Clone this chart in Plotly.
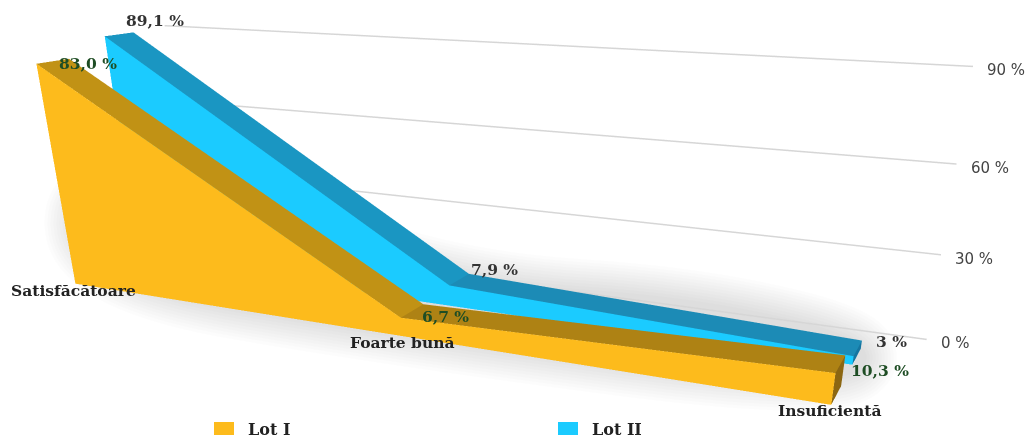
import plotly.graph_objects as go

# Chart data
categories = ["Satisfăcătoare", "Foarte bună", "Insuficientă"]
lot1_values = [83.0, 6.7, 10.3]
lot2_values = [89.1, 7.9, 3.0]
lot1_labels = ["83,0 %", "6,7 %", "10,3 %"]
lot2_labels = ["89,1 %", "7,9 %", "3 %"]
value_ticks = [0, 30, 60, 90]
value_tick_labels = ["0 %", "30 %", "60 %", "90 %"]

# Depth slots of the two ribbons and of the back wall
LOT1_DEPTH = (0.0, 0.12)
LOT2_DEPTH = (0.27, 0.39)
WALL_DEPTH = 0.53
X_END = 2.13

LOT1_COLORS = dict(front="#FDBB1C", top=["#C19215", "#AE8214"], side="#8B6612")
LOT2_COLORS = dict(front="#1BCBFF", top=["#1A96C2", "#1C8BB6"], side="#1575A0")

# Label nudges in pixels, per point
CATEGORY_SHIFT = [(-2, 5), (1, 5), (-2, 6)]
LOT1_SHIFT = [(-12, -5), (-3, -12), (4, -15)]
LOT2_SHIFT = [(-9, 12), (0, 4), (12, -1)]

SERIF = "DejaVu Serif"
SANS = "DejaVu Sans"
FIG_W, FIG_H = 1030, 950

# Outline of the soft drop shadow under the ribbons, in page pixels
SHADOW_OUTLINE = [(75, 170), (80, 280), (405, 335), (830, 390), (885, 345),
                  (700, 300), (470, 285), (300, 230)]


def ribbon(values, depth, colors, name):
    """Extruded area: one front panel and one top panel per segment, plus the end cap."""
    y0, y1 = depth
    xs, ys, zs = [], [], []
    for i, v in enumerate(values):
        xs += [i, i, i, i]
        ys += [y0, y0, y1, y1]
        zs += [0, v, 0, v]
    ii, jj, kk, fc = [], [], [], []

    def quad(a, b, c, d, color):
        ii.extend([a, a])
        jj.extend([b, c])
        kk.extend([c, d])
        fc.extend([color, color])

    for s in range(len(values) - 1):
        n = 4 * s
        m = n + 4
        quad(n, n + 1, m + 1, m, colors["front"])
        quad(n + 1, n + 3, m + 3, m + 1, colors["top"][s])
    last = 4 * (len(values) - 1)
    quad(last, last + 1, last + 3, last + 2, colors["side"])
    return go.Mesh3d(
        x=xs, y=ys, z=zs, i=ii, j=jj, k=kk, facecolor=fc, name=name, flatshading=True,
        lighting=dict(ambient=1, diffuse=0, specular=0, fresnel=0),
        hoverinfo="skip", showscale=False,
    )


def smooth_closed_path(points):
    """Closed curve through the midpoints of an outline, in paper coordinates."""
    pts = [(x / FIG_W, 1 - y / FIG_H) for x, y in points]
    mids = [((a[0] + b[0]) / 2, (a[1] + b[1]) / 2) for a, b in zip(pts, pts[1:] + pts[:1])]
    d = f"M {mids[-1][0]:.5f} {mids[-1][1]:.5f}"
    for p, m in zip(pts, mids):
        d += f" Q {p[0]:.5f} {p[1]:.5f} {m[0]:.5f} {m[1]:.5f}"
    return d + " Z"


fig = go.Figure()

# Back-wall gridlines
for tick in value_ticks:
    fig.add_trace(go.Scatter3d(
        x=[0, X_END], y=[WALL_DEPTH, WALL_DEPTH], z=[tick, tick], mode="lines",
        line=dict(color="#D6D6D6", width=3), hoverinfo="skip", showlegend=False,
    ))

fig.add_trace(ribbon(lot2_values, LOT2_DEPTH, LOT2_COLORS, "Lot II"))
fig.add_trace(ribbon(lot1_values, LOT1_DEPTH, LOT1_COLORS, "Lot I"))

notes = []
# Category names at the floor of the front ribbon
for i, name in enumerate(categories):
    dx, dy = CATEGORY_SHIFT[i]
    notes.append(dict(x=i, y=LOT1_DEPTH[0], z=0, text=name, showarrow=False, yanchor="top",
                      xshift=dx, yshift=dy,
                      font=dict(family=SERIF, size=15.5, color="#222222", weight="bold")))
# Value labels at the rear top edge of each ribbon
for i, (v, t) in enumerate(zip(lot1_values, lot1_labels)):
    dx, dy = LOT1_SHIFT[i]
    notes.append(dict(x=i, y=LOT1_DEPTH[1], z=v, text=t, showarrow=False, xanchor="left",
                      xshift=dx, yshift=dy,
                      font=dict(family=SERIF, size=15.5, color="#1E4D24", weight="bold")))
for i, (v, t) in enumerate(zip(lot2_values, lot2_labels)):
    dx, dy = LOT2_SHIFT[i]
    notes.append(dict(x=i, y=LOT2_DEPTH[1], z=v, text=t, showarrow=False, xanchor="left",
                      xshift=dx, yshift=dy,
                      font=dict(family=SERIF, size=15.5, color="#333333", weight="bold")))
# Value-axis labels at the wall's right end
for tick, t in zip(value_ticks, value_tick_labels):
    notes.append(dict(x=X_END, y=WALL_DEPTH, z=tick, text=t, showarrow=False, xanchor="left",
                      xshift=12, yshift=-4, font=dict(family=SANS, size=15, color="#444444")))

hidden = dict(visible=False)
fig.update_layout(
    width=FIG_W, height=FIG_H, autosize=False, margin=dict(l=0, r=0, t=0, b=0),
    paper_bgcolor="white", showlegend=False,
    scene=dict(
        domain=dict(x=[0, 1], y=[0, 1]),
        xaxis=dict(hidden, range=[0, X_END]),
        yaxis=dict(hidden, range=[0, WALL_DEPTH]),
        zaxis=dict(hidden, range=[0, 90]),
        aspectmode="manual",
        aspectratio=dict(x=2.32, y=0.53, z=0.66),
        camera=dict(
            eye=dict(x=1.3473, y=-2.6878, z=0.6693),
            center=dict(x=0.2395, y=-0.2447, z=-0.6741),
            up=dict(x=0, y=0, z=1),
        ),
        annotations=notes,
    ),
)

# Soft shadow: stacked faint strokes of growing width behind the canvas
shadow_path = smooth_closed_path(SHADOW_OUTLINE)
for width in range(6, 72, 6):
    fig.add_shape(type="path", xref="paper", yref="paper", path=shadow_path, layer="below",
                  fillcolor="#555555", opacity=0.013,
                  line=dict(color="#555555", width=width))


def legend_entry(left, label, color):
    top = 1 - 422 / FIG_H
    bottom = 1 - 435 / FIG_H
    fig.add_shape(type="rect", xref="paper", yref="paper", x0=left / FIG_W, x1=(left + 20) / FIG_W,
                  y0=bottom, y1=top, fillcolor=color, line_width=0)
    fig.add_annotation(xref="paper", yref="paper", x=(left + 32) / FIG_W, y=1 - 429 / FIG_H,
                       xanchor="left", text=label, showarrow=False,
                       font=dict(family=SERIF, size=16, color="#222222", weight="bold"))


legend_entry(214, "Lot I", LOT1_COLORS["front"])
legend_entry(558, "Lot II", LOT2_COLORS["front"])

fig.write_html("out.html")
